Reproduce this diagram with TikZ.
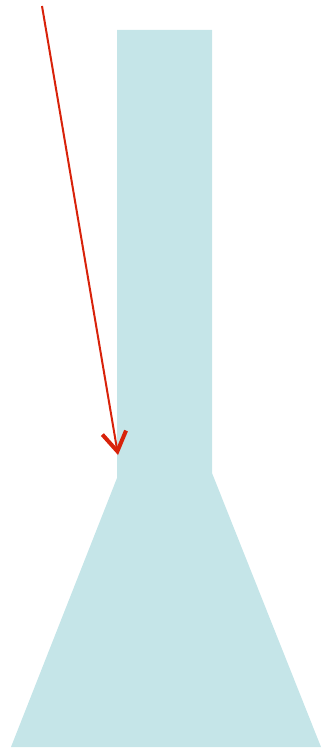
\documentclass[tikz,border=0pt]{standalone}
\usetikzlibrary{arrows.meta}
\definecolor{flaskcyan}{HTML}{C5E5E8}
\definecolor{pointred}{HTML}{D8220A}
\begin{document}
\begin{tikzpicture}[x=1pt,y=-1pt]
  % Frame
  \useasboundingbox (0,0) rectangle (327,751);
  % Flask body
  \fill[flaskcyan] (117,30) -- (212,30) -- (212,473) -- (321,747)
    -- (11,747) -- (117,478) -- cycle;
  % Pointer
  \coordinate (start) at (42,6);
  \coordinate (tip) at (118,455);
  \draw[pointred, line width=2pt, -{Straight Barb[length=19pt,width=24pt,line width=4pt]}]
    (start) -- (tip);
\end{tikzpicture}
\end{document}
